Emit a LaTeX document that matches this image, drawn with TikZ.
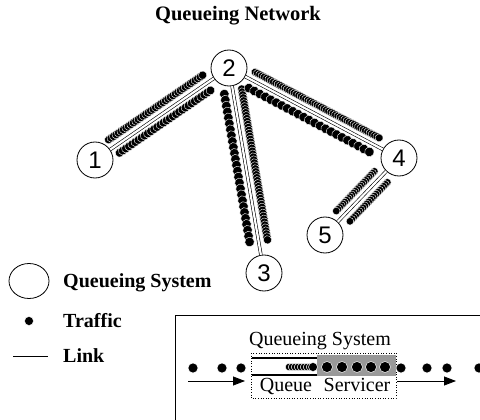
\documentclass[tikz,border=0pt]{standalone}
\usepackage{fontspec}
\setmainfont{Liberation Serif}
\newfontfamily\digitfont{Liberation Sans}
\usetikzlibrary{calc,decorations.markings,arrows.meta,shapes.geometric}

% a row of traffic dots running beside the link from #1 to #2:
% #3,#4 = start/end fraction, #5 = side offset, #6 = dot radius, #7 = spacing
\newcommand\trafficrow[7]{%
  \path[decoration={markings,
        mark=between positions 0 and 1 step #7 with
        {\fill[black,draw=white,line width=0.4pt] (0,0) circle (#6);}},
        decorate]
    ($(#1)!#3!(#2)!#5!90:(#2)$) -- ($(#1)!#4!(#2)!#5!-90:(#1)$);}

\begin{document}
\begin{tikzpicture}[x=1pt,y=-1pt,
  sys/.style={circle,draw,line width=0.8pt,fill=white,minimum size=36pt,
    inner sep=0pt,font=\digitfont\fontsize{24}{24}\selectfont},
  link/.style={double,double distance=2.2pt,line width=0.6pt},
  lbl/.style={font=\fontsize{20}{20}\selectfont\bfseries,anchor=base west,inner sep=0pt},
  txt/.style={font=\fontsize{20}{20}\selectfont,anchor=base,inner sep=0pt},
  dot/.style={circle,fill=black,draw=white,line width=0.5pt,inner sep=0pt,minimum size=#1},
  dot/.default=10pt,
  flow/.style={line width=0.8pt,-{Triangle[length=12pt,width=9pt]}}]
\useasboundingbox (0,0) rectangle (480,420);
\clip (0,0) rectangle (480,420);

% title
\node[font=\fontsize{20.5}{20.5}\selectfont\bfseries,anchor=base,inner sep=0pt]
  (title) at (238,21) {Queueing Network};

% network of queueing systems
\node[sys] (n1) at (95,160) {1};
\node[sys] (n2) at (229,68) {2};
\node[sys] (n3) at (264,273) {3};
\node[sys] (n4) at (399,158) {4};
\node[sys] (n5) at (325,235) {5};

\draw[link] (n1) -- (n2);
\draw[link] (n2) -- (n3);
\draw[link] (n2) -- (n4);
\draw[link] (n4) -- (n5);

% traffic along the links
\trafficrow{n1}{n2}{0.14}{0.85}{9pt}{4.2pt}{3pt}
\trafficrow{n1}{n2}{0.15}{0.85}{-8pt}{4.4pt}{3.8pt}
\trafficrow{n2}{n3}{0.12}{0.87}{-9pt}{4.8pt}{6pt}
\trafficrow{n2}{n3}{0.11}{0.86}{9pt}{4.2pt}{3pt}
\trafficrow{n2}{n4}{0.13}{0.87}{8.5pt}{4pt}{2.6pt}
\trafficrow{n2}{n4}{0.14}{0.86}{-8.5pt}{4.8pt}{6.2pt}
\trafficrow{n4}{n5}{0.25}{0.77}{-8.5pt}{3.8pt}{2.5pt}
\trafficrow{n4}{n5}{0.24}{0.76}{8.5pt}{3.8pt}{2.7pt}

% legend
\node[draw,ellipse,line width=0.8pt,minimum width=40pt,minimum height=35pt] (lsys) at (29,281) {};
\node[lbl] (lsyst) at (63,287) {Queueing System};
\node[dot=9pt] (ltraf) at (29,321) {};
\node[lbl] (ltraft) at (63,327) {Traffic};
\coordinate (la) at (13,356);
\coordinate (lb) at (48,356);
\draw[line width=0.6pt] (la) -- (lb);
\node[lbl] (llinkt) at (63,362) {Link};

% detail of one queueing system
\coordinate (bxa) at (490,315);
\coordinate (bxb) at (175,430);
\draw[line width=1pt] (bxa) -| (bxb);
\node[txt] (qstitle) at (320,345) {Queueing System};

\fill[black!40] (317,355) rectangle (396,376);
\draw[dotted,line width=0.6pt] (251,353) rectangle (396,398);
\draw[line width=1.2pt] (252,358) -- (317,358);
\draw[line width=1.2pt] (252,375) -- (317,375);

% waiting traffic in the queue
\foreach \x in {289,292,...,311} \node[dot=7.5pt] at (\x,367) {};
\node[dot=9pt] at (313,367) {};
% traffic being served
\foreach \x in {327,342,357,371,385} \node[dot=11pt] at (\x,367) {};
% arriving and departing traffic
\foreach \x in {193,222,241,401,427,447,479} \node[dot] at (\x,368) {};

\coordinate (ina) at (188,381);
\coordinate (inb) at (245,381);
\coordinate (outa) at (397,381);
\coordinate (outb) at (456,381);
\draw[flow] (ina) -- (inb);
\draw[flow] (outa) -- (outb);

\node[txt] (qlbl) at (286,391) {Queue};
\node[txt] (slbl) at (357,391) {Servicer};
\end{tikzpicture}
\end{document}
